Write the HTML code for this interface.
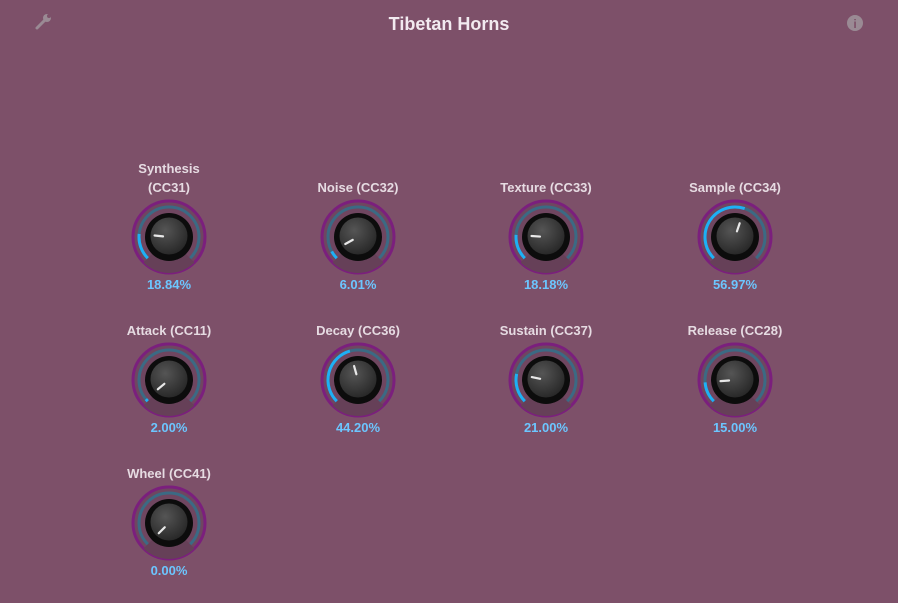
<!DOCTYPE html>
<html><head><meta charset="utf-8"><style>
body{margin:0;width:898px;height:598px;background:#7d5069;overflow:hidden;font-family:"Liberation Sans",sans-serif}
</style></head><body>
<svg id="s" width="898" height="598" xmlns="http://www.w3.org/2000/svg">
<defs>
<radialGradient id="kg" cx="40%" cy="35%" r="70%"><stop offset="0" stop-color="#555"/><stop offset="1" stop-color="#262626"/></radialGradient>
</defs>
<text x="449" y="30" text-anchor="middle" font-size="18" font-weight="bold" fill="#f2eaf0">Tibetan Horns</text>
<g fill="#9a8a94" stroke="#9a8a94">
<line x1="37" y1="28" x2="46" y2="19" stroke-width="3" stroke-linecap="round"/>
<circle cx="47" cy="18" r="4" stroke="none"/><circle cx="49" cy="16" r="2" fill="#7d5069" stroke="none"/>
</g>
<g>
<circle cx="855" cy="23" r="8" fill="#9a8a94"/>
<text x="855" y="28" text-anchor="middle" font-size="12" font-weight="bold" fill="#7d5069">i</text>
</g>
</svg>
<script>
const labels=[["Synthesis","(CC31)"],["Noise (CC32)"],["Texture (CC33)"],["Sample (CC34)"],["Attack (CC11)"],["Decay (CC36)"],["Sustain (CC37)"],["Release (CC28)"],["Wheel (CC41)"]];
const values=[18.84,6.01,18.18,56.97,2.00,44.20,21.00,15.00,0.00];
const colX=[169,358,546,735];const rowY=[237,380,523];
const s=document.getElementById('s');const NS="http://www.w3.org/2000/svg";
function mk(t,a,p){const e=document.createElementNS(NS,t);for(const k in a)e.setAttribute(k,a[k]);(p||s).appendChild(e);return e;}
function pt(cx,cy,r,deg){const a=(deg-90)*Math.PI/180;return [cx+r*Math.cos(a),cy+r*Math.sin(a)];}
function arc(cx,cy,r,a0,a1){const p0=pt(cx,cy,r,a0),p1=pt(cx,cy,r,a1);return `M${p0[0]} ${p0[1]} A${r} ${r} 0 ${a1-a0>180?1:0} 1 ${p1[0]} ${p1[1]}`;}
values.forEach((v,i)=>{
 const cx=colX[i%4],cy=rowY[Math.floor(i/4)];
 const g=mk('g',{});
 
 
 mk('circle',{cx,cy,r:36,fill:'#6f4660',stroke:'#7b1f7d','stroke-width':3},g);
 const b0=pt(cx,cy,36,135),b1=pt(cx,cy,36,225);
 mk('path',{d:`M${cx} ${cy} L${b0[0]} ${b0[1]} A36 36 0 0 1 ${b1[0]} ${b1[1]} Z`,fill:'#664058'},g);
 mk('path',{d:arc(cx,cy,30,-135,135),fill:'none',stroke:'#3b6a84','stroke-width':3},g);
 if(v>0)mk('path',{d:arc(cx,cy,30,-135,-135+270*v/100),fill:'none',stroke:'#1eb0f5','stroke-width':3},g);
 mk('circle',{cx,cy,r:24,fill:'#0c0c0c'},g);
 mk('circle',{cx,cy:cy-1,r:18.5,fill:'url(#kg)'},g);
 const ang=-135+270*v/100,q0=pt(cx,cy,6,ang),q1=pt(cx,cy,14.5,ang);
 mk('line',{x1:q0[0],y1:q0[1],x2:q1[0],y2:q1[1],stroke:'#e8e8e8','stroke-width':2.2,'stroke-linecap':'round'},g);
 const L=labels[i];
 L.forEach((t,j)=>{const tx=mk('text',{x:cx,y:cy-45-(L.length-1-j)*19,'text-anchor':'middle','font-size':13,'font-weight':'bold',fill:'#e6dbe2'});tx.textContent=t;
  
  });
 const vt=mk('text',{x:cx,y:cy+52,'text-anchor':'middle','font-size':13,'font-weight':'bold',fill:'#6cc6ff'});
 vt.textContent=v.toFixed(2)+'%';
 
 
});
</script>
</body></html>
